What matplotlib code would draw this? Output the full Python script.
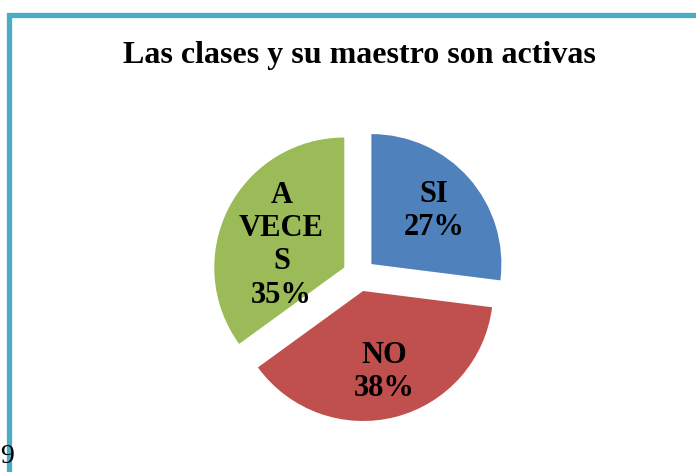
import matplotlib.pyplot as plt
from matplotlib.patches import Rectangle
import numpy as np

title = 'Las clases y su maestro son activas'
labels = ['SI', 'NO', 'A\nVECE\nS']
values = [27, 38, 35]
colors = ['#4F81BD', '#C0504D', '#9BBB59']

plt.rcParams['font.family'] = ['Liberation Serif', 'DejaVu Serif']

fig = plt.figure(figsize=(6.96, 4.72), dpi=100)

# border of the chart area (runs past the right and bottom edges)
fig.patches.append(Rectangle((8.5 / 696, -0.2), 1.2, 1.2 - 14.5 / 472,
                             transform=fig.transFigure, fill=False,
                             edgecolor='#4BACC6', linewidth=3.8, zorder=0))

ax = fig.add_axes([203 / 696, 41 / 472, 312 / 696, 312 / 472])
explode = [0.127] * 3
wedges, _ = ax.pie(values, colors=colors, startangle=90, counterclock=False,
                   explode=explode, radius=1)
ax.set_xlim(-1.2, 1.2)
ax.set_ylim(-1.2, 1.2)
ax.set_aspect('equal')
ax.axis('off')

# label positions: distance from centre per slice
dists = [0.76, 0.77, 0.64]
angle_fix = [-1, 0, 6]
total = sum(values)
start = 90.0
for lab, v, d, fix in zip(labels, values, dists, angle_fix):
    mid = start - v / total * 360 / 2
    start -= v / total * 360
    a = np.deg2rad(mid + fix)
    ax.text(d * np.cos(a), d * np.sin(a), f'{lab}\n{v}%', ha='center', va='center',
            fontsize=22, fontweight='bold', linespacing=1.2)

fig.text(359 / 696, 1 - 55 / 472, title, ha='center', va='center',
         fontsize=23, fontweight='bold')
fig.text(0.5 / 696, 1 - 463 / 472, '9', ha='left', va='baseline', fontsize=20)

fig.savefig('out.png', dpi=100)
